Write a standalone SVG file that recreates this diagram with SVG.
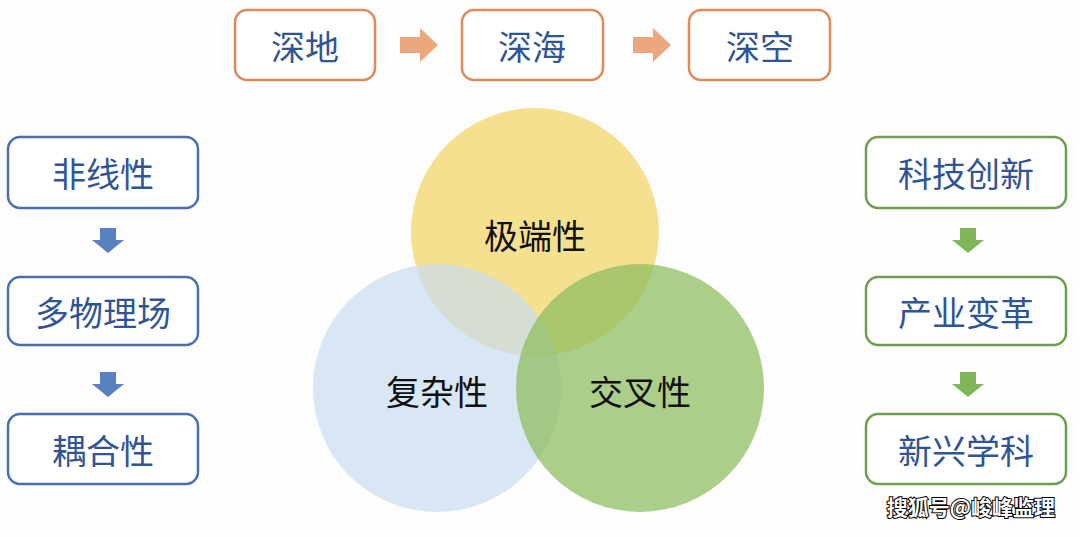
<svg xmlns="http://www.w3.org/2000/svg" width="1080" height="537" viewBox="0 0 1080 537">
<style>
.t{font-family:"Noto Sans CJK SC",sans-serif;font-size:34px;text-anchor:middle;dominant-baseline:central}
.b{fill:#2f5597}.k{fill:#111}
.o{fill:#fff;stroke:#e08a5a;stroke-width:2.5}
.bl{fill:#fff;stroke:#4a6fae;stroke-width:2.5}
.g{fill:#fff;stroke:#6e9f4e;stroke-width:2.5}
</style>
<rect width="1080" height="537" fill="#fdfdfd"/>
<g id="circles">
<circle cx="535" cy="232" r="124" fill="#f2d56a" fill-opacity="0.75"/>
<circle cx="437" cy="388" r="124" fill="#c9dcef" fill-opacity="0.7"/>
<circle cx="640" cy="388" r="124" fill="#8fbd62" fill-opacity="0.75"/>
<text class="t k" x="535" y="234">极端性</text>
<text class="t k" x="437" y="390">复杂性</text>
<text class="t k" x="640" y="390">交叉性</text>
</g>
<g id="connectors">
<polygon points="400,37 420,37 420,28 438,45 420,62 420,53 400,53" fill="#eda77e"/>
<polygon points="633,37 653,37 653,28 671,45 653,62 653,53 633,53" fill="#eda77e"/>
<polygon points="100,228 116,228 116,240 124,240 108,253 92,240 100,240" fill="#5b80c2"/>
<polygon points="100,372 116,372 116,384 124,384 108,397 92,384 100,384" fill="#5b80c2"/>
<polygon points="960,228 976,228 976,240 984,240 968,253 952,240 960,240" fill="#7fb65a"/>
<polygon points="960,372 976,372 976,384 984,384 968,397 952,384 960,384" fill="#7fb65a"/>
</g>
<g id="n1"><rect class="o" x="235" y="10" width="140" height="70" rx="12"/><text class="t b" x="305" y="45">深地</text></g>
<g id="n2"><rect class="o" x="462" y="10" width="141" height="70" rx="12"/><text class="t b" x="532" y="45">深海</text></g>
<g id="n3"><rect class="o" x="689" y="10" width="141" height="70" rx="12"/><text class="t b" x="760" y="45">深空</text></g>
<g id="l1"><rect class="bl" x="8" y="137" width="190" height="71" rx="12"/><text class="t b" x="103" y="172">非线性</text></g>
<g id="l2"><rect class="bl" x="8" y="277" width="190" height="68" rx="12"/><text class="t b" x="103" y="311">多物理场</text></g>
<g id="l3"><rect class="bl" x="8" y="414" width="190" height="70" rx="12"/><text class="t b" x="103" y="449">耦合性</text></g>
<g id="r1"><rect class="g" x="866" y="137" width="200" height="71" rx="12"/><text class="t b" x="966" y="172">科技创新</text></g>
<g id="r2"><rect class="g" x="866" y="277" width="200" height="68" rx="12"/><text class="t b" x="966" y="311">产业变革</text></g>
<g id="r3"><rect class="g" x="866" y="414" width="200" height="70" rx="12"/><text class="t b" x="966" y="449">新兴学科</text></g>
<text x="1055" y="515" font-family="Noto Sans CJK SC,sans-serif" font-size="21" font-weight="bold" text-anchor="end" fill="#fff" stroke="#000" stroke-width="2" paint-order="stroke">搜狐号@峻峰监理</text>
</svg>
